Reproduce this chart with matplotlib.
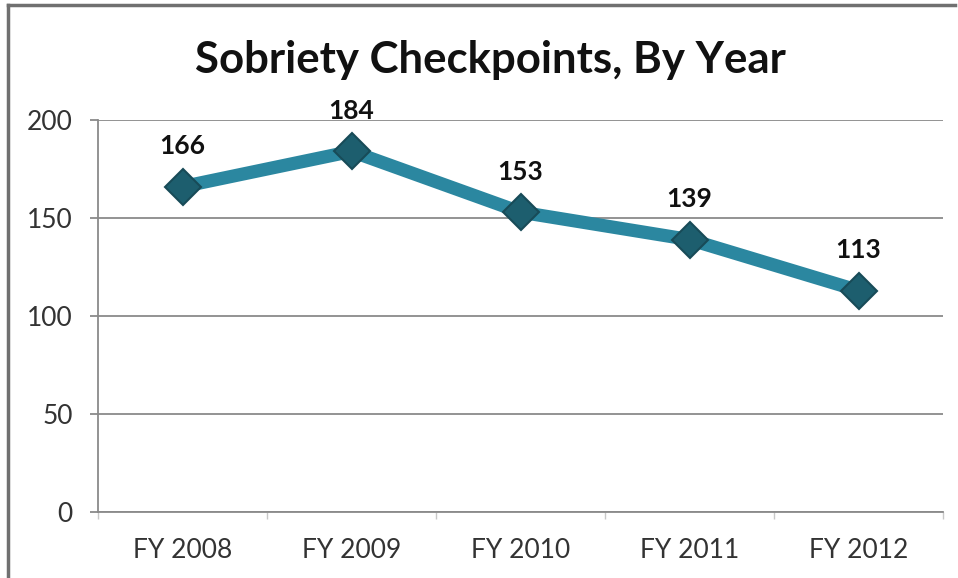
import matplotlib.pyplot as plt
from matplotlib.lines import Line2D

years = ['FY 2008', 'FY 2009', 'FY 2010', 'FY 2011', 'FY 2012']
checkpoints = [166, 184, 153, 139, 113]
y_ticks = [0, 50, 100, 150, 200]

plt.rcParams['font.family'] = ['Lato', 'DejaVu Sans']

fig = plt.figure(figsize=(9.58, 5.78), dpi=100)
ax = fig.add_axes([98 / 958, 66 / 578, 845 / 958, 392 / 578])

x = list(range(len(years)))
ax.plot(x, checkpoints, color='#2B87A0', lw=9.5, solid_joinstyle='round',
        marker='D', markersize=18, markerfacecolor='#1D5E6E',
        markeredgecolor='#184B58', markeredgewidth=1.5, zorder=3)

for xi, v in zip(x, checkpoints):
    ax.annotate(str(v), (xi, v), xytext=(0, 29), textcoords='offset points',
                ha='center', va='center', fontsize=19, fontweight='bold',
                color='#111111', zorder=4)

ax.set_xlim(-0.5, len(years) - 0.5)
ax.set_ylim(0, 200)
ax.set_yticks(y_ticks)
ax.set_xticks(x)
ax.set_xticklabels(years)
ax.set_xticks([i - 0.5 for i in range(len(years) + 1)], minor=True)
ax.grid(axis='y', color='#8a8a8a', lw=1.3)
ax.set_axisbelow(True)

for side in ['top', 'right']:
    ax.spines[side].set_visible(False)
for side in ['left', 'bottom']:
    ax.spines[side].set_color('#8a8a8a')
    ax.spines[side].set_linewidth(1.3)

ax.tick_params(axis='y', length=6, width=1.3, color='#8a8a8a', labelsize=19,
               labelcolor='#333333', pad=12)
ax.tick_params(axis='x', which='major', length=0, labelsize=19,
               labelcolor='#333333', pad=19)
ax.tick_params(axis='x', which='minor', length=5, width=1, color='#c8c8c8')

fig.text(490 / 958, 1 - 60 / 578, 'Sobriety Checkpoints, By Year',
         ha='center', va='center', fontsize=31.5, fontweight='bold', color='#111111')

# frame lines along the top and left edges
fig.add_artist(Line2D([8 / 958, 955 / 958], [1 - 5 / 578, 1 - 5 / 578],
                      transform=fig.transFigure, color='#707070', lw=2.5))
fig.add_artist(Line2D([8 / 958, 8 / 958], [0, 1 - 5 / 578],
                      transform=fig.transFigure, color='#707070', lw=2.5))

fig.savefig('out.png', dpi=100)
